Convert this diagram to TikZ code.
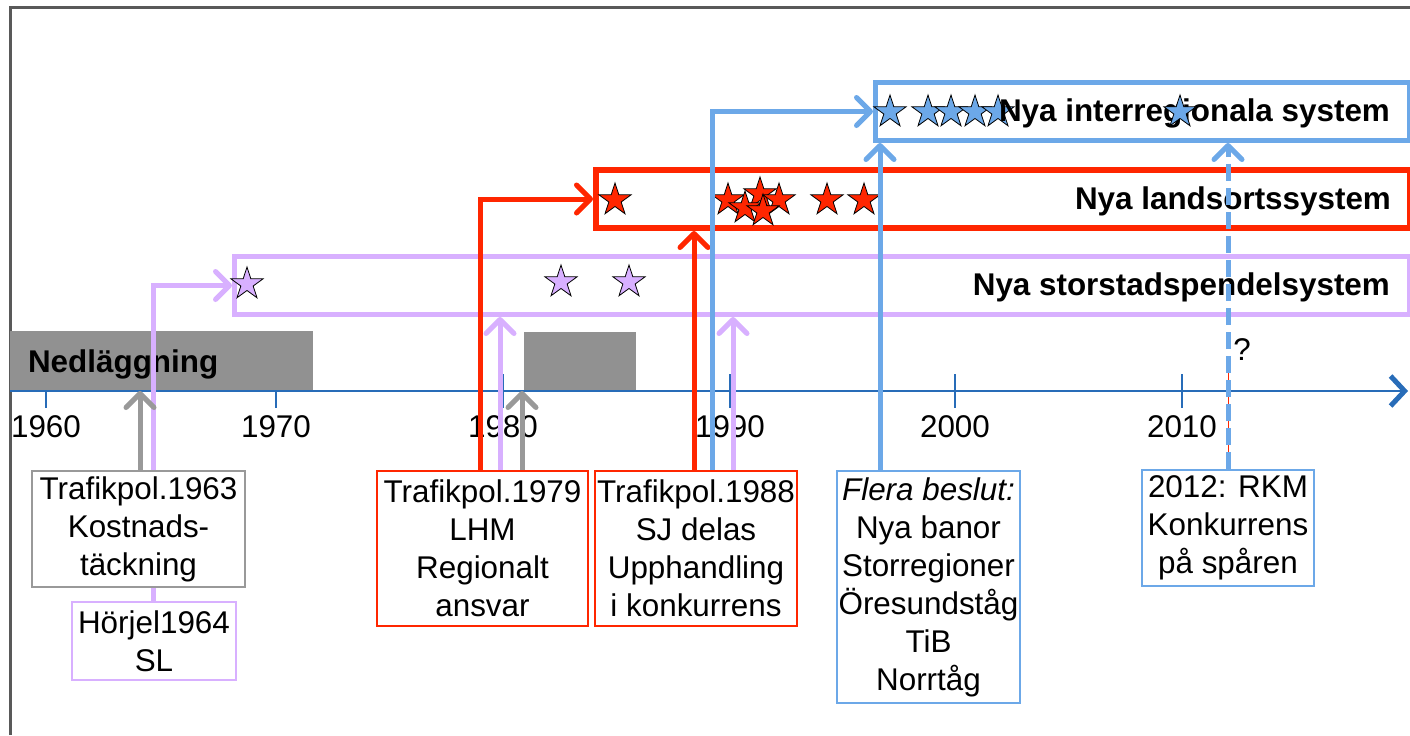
\documentclass[tikz,border=0pt]{standalone}
\usepackage{fontspec}
\setmainfont{Liberation Sans}
\usetikzlibrary{arrows.meta,shapes.geometric}
\definecolor{lavline}{RGB}{216,176,255}
\definecolor{redline}{RGB}{255,38,0}
\definecolor{blueline}{RGB}{108,168,232}
\definecolor{greyline}{RGB}{153,153,153}
\definecolor{greyfill}{RGB}{145,145,145}
\definecolor{axisblue}{RGB}{40,108,184}
\definecolor{framegrey}{RGB}{89,89,89}
\tikzset{
  sysbox/.style={draw, line width=2.5pt, minimum height=29pt, inner sep=0pt, anchor=north west},
  decbox/.style={fill=white, line width=1pt, align=center, inner sep=0pt},
  conn/.style={line width=2.5pt, -{Straight Barb[length=7pt,width=14pt,line width=2.5pt,round]}},
  starmark/.style={star, star points=5, star point ratio=2.618, minimum size=17pt, inner sep=0pt, draw=black, line width=0.4pt},
  boldtxt/.style={font=\fontsize{15.7}{19}\selectfont\bfseries}
}
\begin{document}
\begin{tikzpicture}[x=0.5pt,y=-0.5pt,font=\fontsize{15.7}{19}\selectfont]
      \useasboundingbox (0,0) rectangle (1410,735);
      \draw[framegrey, line width=1.5pt] (10,735) -- (10,7) -- (1410,7);
      % time axis
      \coordinate (ax0) at (10,391);
      \coordinate (ax1) at (1408,391);
      \draw[axisblue, line width=1pt] (46,374) -- (46,408) node[anchor=north, text=black] (y1960) {1960};
      \draw[axisblue, line width=1pt] (276,374) -- (276,408) node[anchor=north, text=black] (y1970) {1970};
      \draw[axisblue, line width=1pt] (503,374) -- (503,408) node[anchor=north, text=black] (y1980) {1980};
      \draw[axisblue, line width=1pt] (730,374) -- (730,408) node[anchor=north, text=black] (y1990) {1990};
      \draw[axisblue, line width=1pt] (955,374) -- (955,408) node[anchor=north, text=black] (y2000) {2000};
      \draw[axisblue, line width=1pt] (1182,374) -- (1182,408) node[anchor=north, text=black] (y2010) {2010};
      \draw[axisblue, line width=1pt, -{Straight Barb[length=7pt,width=15pt,line width=2.5pt]}] (ax0) -- (ax1);
      \fill[greyfill] (10,331) rectangle (313,390);
      \fill[greyfill] (524,332) rectangle (636,390);
      \node[boldtxt, anchor=west] (ned) at (21,364) {Nedläggning};
      % system boxes
      \node[sysbox, draw=lavline, minimum width=587.5pt] (lav) at (232,254) {};
      \node[sysbox, draw=redline, line width=3pt, minimum width=407pt] (land) at (593,167) {};
      \node[sysbox, draw=blueline, minimum width=267pt] (inter) at (873,80) {};
      \node[starmark, fill=lavline] (sl1) at (247,284) {};
      \node[starmark, fill=lavline] (sl2) at (561,282) {};
      \node[starmark, fill=lavline] (sl3) at (629,282) {};
      \node[starmark, fill=redline] (sr1) at (615,200) {};
      \node[starmark, fill=redline] (sr2) at (728,200) {};
      \node[starmark, fill=redline] (sr3) at (760,194) {};
      \node[starmark, fill=redline] (sr4) at (779,200) {};
      \node[starmark, fill=redline] (sr5) at (745,208) {};
      \node[starmark, fill=redline] (sr6) at (763,211) {};
      \node[starmark, fill=redline] (sr7) at (827,200) {};
      \node[starmark, fill=redline] (sr8) at (864,200) {};
      \node[starmark, fill=blueline] (sb1) at (890,112) {};
      \node[starmark, fill=blueline] (sb2) at (928,112) {};
      \node[starmark, fill=blueline] (sb3) at (951,112) {};
      \node[starmark, fill=blueline] (sb4) at (975,112) {};
      \node[starmark, fill=blueline] (sb5) at (998,112) {};
      \node[boldtxt, anchor=east] (lavtxt) at ([xshift=-7.5pt,yshift=-1pt]lav.east) {Nya storstadspendelsystem};
      \node[boldtxt, anchor=east] (landtxt) at ([xshift=-7.5pt,yshift=-1pt]land.east) {Nya landsortssystem};
      \node[boldtxt, anchor=east] (intertxt) at ([xshift=-7.5pt,yshift=-1pt]inter.east) {Nya interregionala system};
      \node[starmark, fill=blueline] (sb6) at (1180,112) {};
      % decisions
      \node[decbox, draw=lavline, minimum width=82pt, minimum height=39pt] (hoerjel) at (154,641) {Hörjel1964\\SL};
      \coordinate (l64) at ([xshift=-0.5pt]hoerjel.north);
      \draw[conn, lavline] (l64) |- (lav.west);
      \node[decbox, draw=greyline, minimum width=106.5pt, minimum height=58pt] (b1963) at (138.5,529) {Trafikpol.1963\\Kostnads-\\täckning};
      \coordinate (g63) at ([xshift=0.75pt]b1963.north);
      \draw[conn, greyline] (g63) -- (g63 |- ax0);
      \node[decbox, draw=redline, minimum width=105.5pt, minimum height=77.5pt] (b1979) at (482.5,548.5) {Trafikpol.1979\\LHM\\Regionalt\\ansvar};
      \coordinate (r79) at ([xshift=-1.25pt]b1979.north);
      \coordinate (l79) at ([xshift=8.75pt]b1979.north);
      \coordinate (g79) at ([xshift=19.75pt]b1979.north);
      \draw[conn, redline] (r79) |- (land.west);
      \draw[conn, lavline] (l79) -- (l79 |- lav.south);
      \draw[conn, greyline] (g79) -- (g79 |- ax0);
      \node[decbox, draw=redline, minimum width=101pt, minimum height=77.5pt] (b1988) at (696,548.5) {Trafikpol.1988\\SJ delas\\Upphandling\\i konkurrens};
      \coordinate (r88) at ([xshift=-1pt]b1988.north);
      \coordinate (b88) at ([xshift=8pt]b1988.north);
      \coordinate (l88) at ([xshift=18.5pt]b1988.north);
      \draw[conn, redline] (r88) -- (r88 |- land.south);
      \draw[conn, blueline] (b88) |- (inter.west);
      \draw[conn, lavline] (l88) -- (l88 |- lav.south);
      \node[decbox, draw=blueline, minimum width=91.5pt, minimum height=116pt] (flera) at (928.5,587) {\textit{Flera beslut:}\\Nya banor\\Storregioner\\Öresundståg\\TiB\\Norrtåg};
      \coordinate (b97) at ([xshift=-24.25pt]flera.north);
      \draw[conn, blueline] (b97) -- (b97 |- inter.south);
      \node[decbox, draw=blueline, minimum width=86pt, minimum height=58pt] (b2012) at (1228,528) {2012: RKM\\Konkurrens\\på spåren};
      \draw[redline, line width=0.5pt] (b2012.north) -- ++(0,-98);
      \draw[conn, blueline, dash pattern=on 8.5pt off 3.5pt] (b2012.north) -- (b2012.north |- inter.south);
      \node (qm) at (1242,350) {?};
\end{tikzpicture}
\end{document}
